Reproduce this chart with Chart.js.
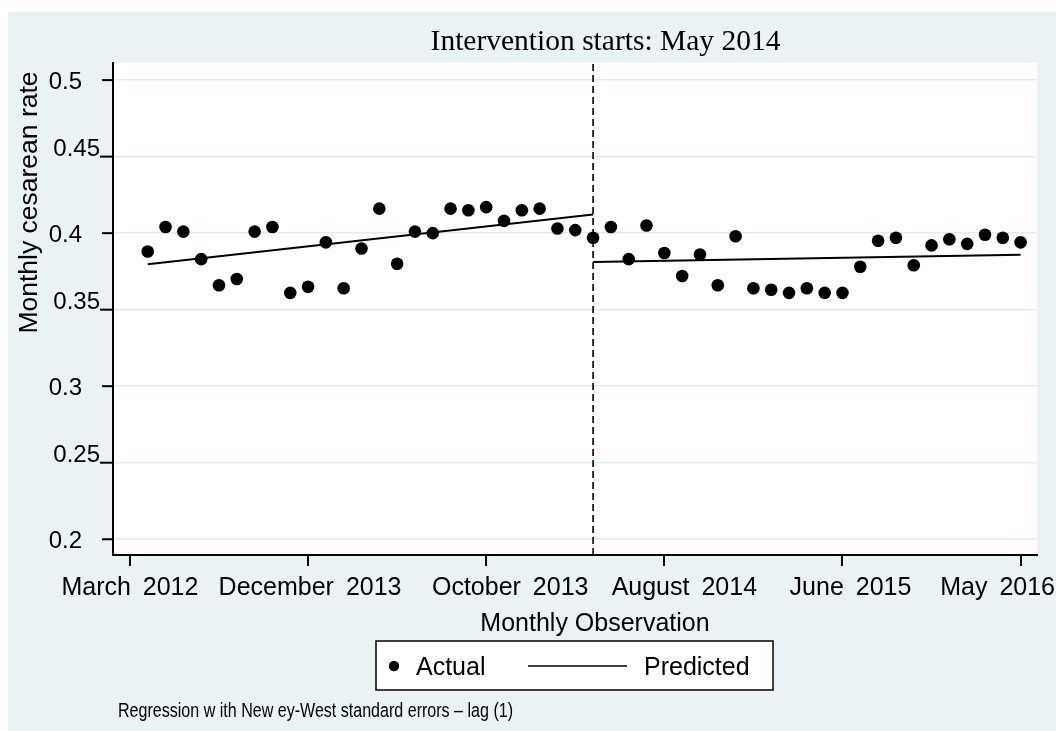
<!DOCTYPE html>
<html>
<head>
<meta charset="utf-8">
<title>Monthly cesarean rate</title>
<script src="https://cdn.jsdelivr.net/npm/chart.js@4.4.4/dist/chart.umd.min.js"></script>
<style>
  html, body { margin: 0; padding: 0; background: #fff; }
  #wrap { width: 1056px; height: 731px; }
</style>
</head>
<body>
<div id="wrap"><canvas id="chart" width="1056" height="731"></canvas></div>
<script>
/* ── Data ────────────────────────────────────────────────────────── */
const MONTH_INDEX = [1, 2, 3, 4, 5, 6, 7, 8, 9, 10, 11, 12, 13, 14, 15, 16, 17, 18, 19, 20, 21, 22, 23, 24, 25,
                     26, 27, 28, 29, 30, 31, 32, 33, 34, 35, 36, 37, 38, 39, 40, 41, 42, 43, 44, 45, 46, 47, 48, 49, 50];
const ACTUAL_RATE = [0.388, 0.404, 0.401, 0.383, 0.366, 0.370, 0.401, 0.404, 0.361, 0.365,
                     0.394, 0.364, 0.390, 0.416, 0.380, 0.401, 0.400, 0.416, 0.415, 0.417,
                     0.408, 0.415, 0.416, 0.403, 0.402, 0.397, 0.404, 0.383, 0.405, 0.387,
                     0.372, 0.386, 0.366, 0.398, 0.364, 0.363, 0.361, 0.364, 0.361, 0.361,
                     0.378, 0.395, 0.397, 0.379, 0.392, 0.396, 0.393, 0.399, 0.397, 0.394];
const PRE_FIT_X  = [1, 26];
const PRE_FIT_Y  = [0.3796, 0.4122];
const POST_FIT_X = [26, 50];
const POST_FIT_Y = [0.3811, 0.3859];
const INTERVENTION_X = 26;

const X_TICKS = [0, 10, 20, 30, 40, 50];
const X_TICK_LABELS = ["March 2012", "December 2013", "October 2013", "August 2014", "June 2015", "May 2016"];
const Y_TICKS = [0.2, 0.25, 0.3, 0.35, 0.4, 0.45, 0.5];
const Y_TICK_LABELS = ["0.2", "0.25", "0.3", "0.35", "0.4", "0.45", "0.5"];

const X_MIN = -0.95, X_MAX = 50.92;
const Y_MIN = 0.1897, Y_MAX = 0.5115;

/* ── Style ───────────────────────────────────────────────────────── */
const SANS   = "'Liberation Sans', Arial, sans-serif";
const NARROW = "'Liberation Sans Narrow', 'Arial Narrow', 'Liberation Sans', sans-serif";
const SERIF  = "'Liberation Serif', 'Times New Roman', serif";
const BG = "#EAF2F3";
const GRID = "#E2EBEE";
// the original places some x labels off-centre from their tick (px)
const X_LABEL_NUDGE = [0, 2, 24, 20, 8, -23];

const pair = (xs, ys) => xs.map((x, i) => ({ x, y: ys[i] }));

/* ── Stata-like frame, labels, legend ────────────────────────────── */
const stataFrame = {
  id: "stataFrame",
  beforeDraw(chart) {
    const { ctx, chartArea: a } = chart;
    ctx.save();
    ctx.fillStyle = "#fff";
    ctx.fillRect(0, 0, chart.width, chart.height);
    ctx.fillStyle = BG;
    ctx.fillRect(8, 12, chart.width - 8, chart.height - 12);
    ctx.fillStyle = "#fff";
    ctx.fillRect(a.left, a.top, a.right - a.left, a.bottom - a.top);
    ctx.restore();
  },
  afterDraw(chart) {
    const { ctx, chartArea: a } = chart;
    const x = chart.scales.x, y = chart.scales.y;
    ctx.save();
    ctx.fillStyle = "#000";
    ctx.strokeStyle = "#000";

    // y ticks: Stata staggers every other label
    ctx.font = `24px ${SANS}`;
    ctx.textAlign = "right";
    ctx.textBaseline = "alphabetic";
    ctx.lineWidth = 2;
    Y_TICKS.forEach((v, i) => {
      const py = y.getPixelForValue(v);
      const odd = i % 2 === 1;
      ctx.beginPath();
      ctx.moveTo(odd ? a.left - 13 : a.left - 11, py);
      ctx.lineTo(a.left, py);
      ctx.stroke();
      if (odd) ctx.fillText(Y_TICK_LABELS[i], a.left - 13, py - 1);
      else     ctx.fillText(Y_TICK_LABELS[i], a.left - 31, py + 8.5);
    });

    // x tick labels
    ctx.font = `25px ${SANS}`;
    ctx.textAlign = "center";
    if ("wordSpacing" in ctx) ctx.wordSpacing = "5px";
    X_TICKS.forEach((v, i) => {
      ctx.fillText(X_TICK_LABELS[i], x.getPixelForValue(v) + X_LABEL_NUDGE[i], 595);
    });
    if ("wordSpacing" in ctx) ctx.wordSpacing = "0px";

    // title
    ctx.font = `29.5px ${SERIF}`;
    ctx.fillText("Intervention starts: May 2014", 605.5, 50);

    // axis titles
    ctx.font = `25px ${SANS}`;
    ctx.fillText("Monthly Observation", 595, 631);
    ctx.save();
    ctx.font = `26.5px ${SANS}`;
    ctx.translate(36.5, 202.5);
    ctx.rotate(-Math.PI / 2);
    ctx.fillText("Monthly cesarean rate", 0, 0);
    ctx.restore();

    // legend
    ctx.fillStyle = "#fff";
    ctx.fillRect(376, 641, 397, 49);
    ctx.lineWidth = 1.5;
    ctx.strokeRect(376, 641, 397, 49);
    ctx.fillStyle = "#000";
    ctx.beginPath();
    ctx.arc(394, 666, 5.2, 0, Math.PI * 2);
    ctx.fill();
    ctx.beginPath();
    ctx.moveTo(528, 666);
    ctx.lineTo(627, 666);
    ctx.stroke();
    ctx.textAlign = "left";
    ctx.font = `25px ${SANS}`;
    ctx.fillText("Actual", 416, 675);
    ctx.fillText("Predicted", 644, 675);

    // note
    ctx.font = `20px ${NARROW}`;
    const note = "Regression w ith New ey-West standard errors \u2013 lag (1)";
    const w = ctx.measureText(note).width;
    ctx.save();
    ctx.translate(118, 716.5);
    ctx.scale(395 / w, 1);
    ctx.fillText(note, 0, 0);
    ctx.restore();

    ctx.restore();
  }
};

/* ── Chart ───────────────────────────────────────────────────────── */
new Chart(document.getElementById("chart"), {
  type: "scatter",
  data: {
    datasets: [
      { label: "Actual", data: pair(MONTH_INDEX, ACTUAL_RATE),
        pointRadius: 6.3, pointBackgroundColor: "#000", pointBorderWidth: 0, showLine: false },
      { label: "Predicted", data: pair(PRE_FIT_X, PRE_FIT_Y),
        showLine: true, borderColor: "#000", borderWidth: 2, pointRadius: 0 },
      { label: "Predicted (post)", data: pair(POST_FIT_X, POST_FIT_Y),
        showLine: true, borderColor: "#000", borderWidth: 2, pointRadius: 0 },
      { label: "Intervention", data: [{ x: INTERVENTION_X, y: Y_MIN }, { x: INTERVENTION_X, y: Y_MAX }],
        showLine: true, borderColor: "#000", borderWidth: 1.6, borderDash: [7, 4], pointRadius: 0 }
    ]
  },
  options: {
    responsive: false,
    animation: false,
    layout: { padding: { left: 8, top: 62.5, right: 19, bottom: 0 } },
    plugins: { legend: { display: false }, tooltip: { enabled: false } },
    scales: {
      x: {
        type: "linear", min: X_MIN, max: X_MAX,
        afterBuildTicks: s => { s.ticks = X_TICKS.map(v => ({ value: v })); },
        afterFit: s => { s.height = 176; s.paddingLeft = 0; s.paddingRight = 0; },
        ticks: { display: false },
        grid: { drawOnChartArea: false, drawTicks: true, tickLength: 11, color: "#000", lineWidth: 2 },
        border: { display: true, color: "#000", width: 2 }
      },
      y: {
        type: "linear", min: Y_MIN, max: Y_MAX,
        afterBuildTicks: s => { s.ticks = Y_TICKS.map(v => ({ value: v })); },
        afterFit: s => { s.width = 105; s.paddingTop = 0; s.paddingBottom = 0; },
        ticks: { display: false },
        grid: { drawTicks: false, color: GRID, lineWidth: 1.5 },
        border: { display: true, color: "#000", width: 2 }
      }
    }
  },
  plugins: [stataFrame]
});
</script>
</body>
</html>
